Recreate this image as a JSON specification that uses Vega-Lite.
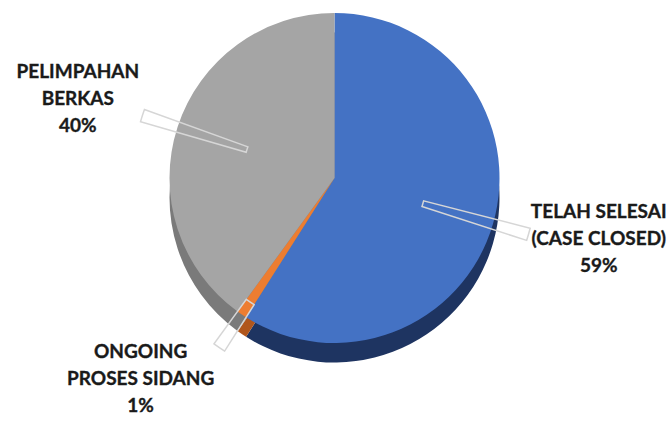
{
  "$schema": "https://vega.github.io/schema/vega-lite/v6.json",
  "width": 669,
  "height": 421,
  "autosize": {"type": "none"},
  "padding": 0,
  "background": "white",
  "view": {"stroke": null},
  "data": {
    "values": [
      {"name": "TELAH SELESAI|(CASE CLOSED)", "value": 59},
      {"name": "ONGOING|PROSES SIDANG", "value": 1},
      {"name": "PELIMPAHAN|BERKAS", "value": 40}
    ]
  },
  "transform": [
    {"window": [{"op": "row_number", "as": "rank"}]},
    {"stack": "value", "groupby": [], "sort": [{"field": "rank", "order": "ascending"}], "as": ["s0", "s1"]},
    {"calculate": "(datum.s0 + datum.s1) / 2", "as": "mid"},
    {"calculate": "datum.mid - 0.5", "as": "lo"},
    {"calculate": "datum.mid + 0.5", "as": "hi"},
    {"calculate": "datum.name + '|' + datum.value + '%'", "as": "label"}
  ],
  "layer": [
    {
      "mark": {"type": "arc", "radius": 165, "yOffset": -13, "stroke": null},
      "encoding": {
        "theta": {"field": "s0", "type": "quantitative", "scale": {"domain": [0, 100]}},
        "theta2": {"field": "s1"},
        "color": {
          "field": "name", "type": "nominal", "legend": null,
          "scale": {"domain": ["TELAH SELESAI|(CASE CLOSED)", "ONGOING|PROSES SIDANG", "PELIMPAHAN|BERKAS"], "range": ["#1E3461", "#B0561C", "#7A7A7A"]}
        }
      }
    },
    {
      "mark": {"type": "arc", "radius": 165, "yOffset": -32.5, "stroke": null},
      "encoding": {
        "theta": {"field": "s0", "type": "quantitative", "scale": {"domain": [0, 100]}},
        "theta2": {"field": "s1"},
        "fill": {
          "field": "name", "type": "nominal", "legend": null,
          "scale": {"domain": ["TELAH SELESAI|(CASE CLOSED)", "ONGOING|PROSES SIDANG", "PELIMPAHAN|BERKAS"], "range": ["#4472C4", "#ED7D31", "#A5A5A5"]}
        }
      }
    },
    {
      "transform": [{"filter": "datum.rank != 2"}],
      "mark": {"type": "arc", "radius": 202, "radius2": 92, "yOffset": -32.5, "fill": null, "stroke": "#d6d6d6", "strokeWidth": 1.5},
      "encoding": {
        "theta": {"field": "lo", "type": "quantitative", "scale": {"domain": [0, 100]}},
        "theta2": {"field": "hi"}
      }
    },
    {
      "transform": [{"filter": "datum.rank == 2"}],
      "mark": {"type": "arc", "radius": 205, "radius2": 150, "yOffset": -32.5, "fill": null, "stroke": "#d6d6d6", "strokeWidth": 1.5},
      "encoding": {
        "theta": {"field": "lo", "type": "quantitative", "scale": {"domain": [0, 100]}},
        "theta2": {"field": "hi"}
      }
    },
    {
      "transform": [{"filter": "datum.rank == 1"}],
      "mark": {"type": "text", "radius": 272, "yOffset": -32.5, "dx": 3, "dy": -42, "font": "Lato", "fontWeight": "bold", "fontSize": 19, "lineBreak": "|", "lineHeight": 27, "align": "center", "baseline": "middle", "color": "#1a1a1a", "stroke": "#1a1a1a", "strokeWidth": 0.35},
      "encoding": {
        "theta": {"field": "mid", "type": "quantitative", "scale": {"domain": [0, 100]}},
        "text": {"field": "label", "type": "nominal"}
      }
    },
    {
      "transform": [{"filter": "datum.rank == 2"}],
      "mark": {"type": "text", "radius": 272, "yOffset": -32.5, "dx": -41, "dy": -51, "font": "Lato", "fontWeight": "bold", "fontSize": 19, "lineBreak": "|", "lineHeight": 27, "align": "center", "baseline": "middle", "color": "#1a1a1a", "stroke": "#1a1a1a", "strokeWidth": 0.35},
      "encoding": {
        "theta": {"field": "mid", "type": "quantitative", "scale": {"domain": [0, 100]}},
        "text": {"field": "label", "type": "nominal"}
      }
    },
    {
      "transform": [{"filter": "datum.rank == 3"}],
      "mark": {"type": "text", "radius": 272, "yOffset": -32.5, "dx": 2, "dy": -22, "font": "Lato", "fontWeight": "bold", "fontSize": 19, "lineBreak": "|", "lineHeight": 27, "align": "center", "baseline": "middle", "color": "#1a1a1a", "stroke": "#1a1a1a", "strokeWidth": 0.35},
      "encoding": {
        "theta": {"field": "mid", "type": "quantitative", "scale": {"domain": [0, 100]}},
        "text": {"field": "label", "type": "nominal"}
      }
    }
  ],
  "resolve": {"scale": {"color": "independent", "fill": "independent"}}
}
